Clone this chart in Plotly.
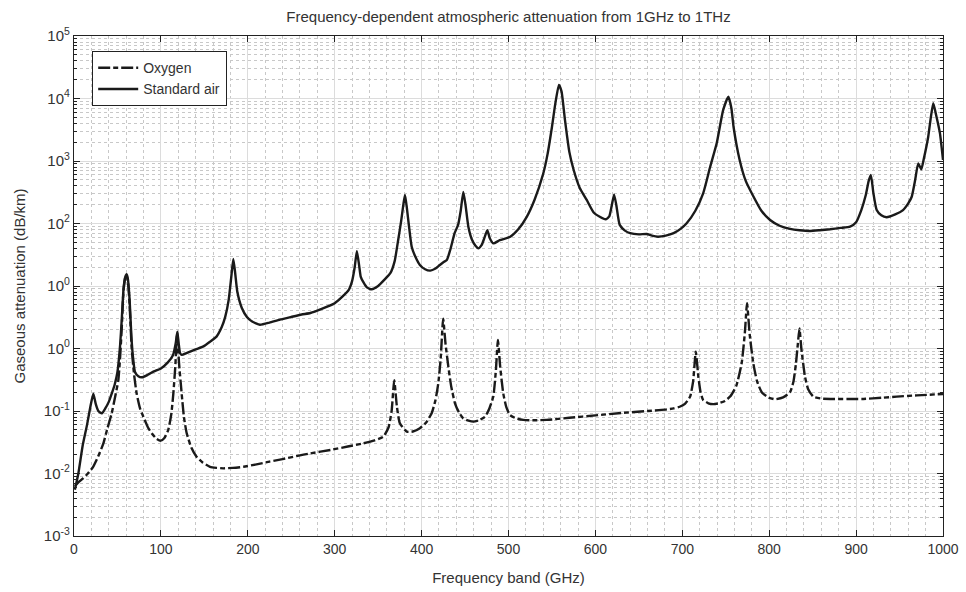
import plotly.graph_objects as go

# ---------------- data ----------------
freq_air = [1, 5, 10, 15, 19, 22.2, 25, 28, 32, 36, 40, 44, 47, 50, 53, 55, 57, 59, 60.6, 62, 64, 66, 68,
            70.2, 74, 78, 85, 92, 100, 108, 114, 117, 118.9, 120.5, 122, 124, 130, 140, 149, 157, 164,
            170, 174, 178, 181, 183.3, 185.5, 188, 193, 199, 205, 214, 225, 237, 250, 262, 272, 285,
            300, 310, 316, 320, 323, 325.5, 328, 330, 333, 337, 342.5, 350, 357, 364, 369, 373, 376.5,
            379, 380.9, 383, 385.5, 388.6, 393, 398, 404, 410, 416, 421, 425, 429, 433, 438, 442, 445,
            448, 450.5, 453.8, 458, 462, 465.3, 469, 472.5, 475.6, 478.5, 482.5, 490, 502, 511, 521,
            530, 540, 545, 550, 554, 558, 561, 565, 570, 575, 582, 590, 598, 605, 612, 616, 619, 621.5,
            624, 628, 634, 640, 650, 659, 665, 672, 681, 690, 698, 705, 715, 724, 732, 739.5, 747, 753,
            756.5, 759, 766, 773, 782, 791, 801, 812, 824, 835, 847, 858, 870, 882, 893, 900, 906, 911,
            914.5, 917, 920, 923.7, 929, 935, 945, 954, 960, 964, 968, 971.5, 975, 978, 983, 986, 988.8,
            992, 996.5, 1000]
att_air = [0.0055, 0.010, 0.028, 0.06, 0.12, 0.19, 0.13, 0.10, 0.092, 0.11, 0.14, 0.2, 0.27, 0.42, 1.1,
           3, 9, 14, 15.5, 13, 6, 1.6, 0.7,
           0.42, 0.36, 0.346, 0.38, 0.43, 0.48, 0.6, 0.79, 1.2, 1.86, 1.2, 0.85, 0.79, 0.85, 0.97, 1.08,
           1.3, 1.55,
           2.2, 3.2, 6, 14, 27, 16, 8, 4.5, 3.2, 2.7, 2.4, 2.6, 2.9, 3.2, 3.5, 3.7, 4.3,
           5.3, 7, 8.6, 12, 20, 36, 22, 14, 11.5, 9.5, 8.85, 10, 12.5, 16, 25, 54, 110,
           200, 286, 180, 90, 42.5, 29, 21.7, 18.5, 17.6, 19, 21.7, 24, 26, 38, 70, 95, 160,
           320, 200, 89, 55, 44, 40, 45, 60, 78, 58, 48, 54, 61.5, 80, 128,
           240, 630, 1300, 3500, 8500, 16500, 13000, 4500, 1400, 718, 370, 238, 150, 128, 117, 130,
           200, 290,
           200, 95, 77, 70, 67, 68, 64, 61.5, 64, 70, 82, 101, 160, 304, 800, 1900, 6500, 10700,
           7000, 3500, 1040, 480, 268, 160, 114, 92, 82, 78, 76, 78, 81, 85, 89, 105, 164, 280,
           480, 600, 300, 164, 135, 126, 140, 164, 210, 268, 500, 918, 736, 1100, 2450, 5000, 8400,
           5500, 2770, 1040]

freq_oxygen = [1, 5, 10.7, 16, 22, 28, 33.7, 38, 43.4, 47, 51, 53, 55, 57, 59, 60.6, 62, 64, 66.4, 69,
               72.1, 76, 79.8, 85, 89.4, 95, 99.8, 104, 108.5, 112, 114.3, 116.5, 118.8, 120.8, 123.9,
               126.5, 129.7, 135, 141, 148, 156.5, 164, 172, 183, 195, 210, 225, 240, 256, 272, 295,
               315, 333, 346, 356, 362, 365.5, 368.5, 371.5, 375, 383, 390, 398, 405, 411.6, 416,
               419.2, 422, 424.8, 427.5, 430.8, 434, 438.4, 443, 448, 454, 459.5, 466, 473, 478, 482.5,
               485.5, 487.8, 490.5, 494, 497.5, 501.7, 509, 517, 530, 544, 570, 600, 630, 660, 680,
               690, 697, 703, 709, 712.5, 715.5, 718.5, 721, 724, 730, 735.7, 742, 749, 755, 762,
               768.3, 772, 774.5, 777.5, 781.7, 786, 791.4, 799, 806.7, 816, 824, 828, 830.8, 833,
               834.8, 837, 841.2, 845, 850.8, 860, 870.3, 890, 908.3, 930, 946.7, 970, 1000]
att_oxygen = [0.0063, 0.0072, 0.0084, 0.010, 0.0128, 0.019, 0.030, 0.05, 0.092, 0.16, 0.31, 0.7, 2.2,
              8.5, 13.5, 14.5, 12, 5, 1.0, 0.4,
              0.19, 0.11, 0.081, 0.055, 0.044, 0.036, 0.0335, 0.037, 0.05, 0.09, 0.19, 0.5, 1.75, 0.6,
              0.19,
              0.08, 0.044, 0.026, 0.0186, 0.015, 0.0128, 0.0123, 0.0121, 0.0123, 0.0128, 0.014, 0.0155,
              0.017, 0.019, 0.021, 0.0238,
              0.027, 0.0304, 0.034, 0.0388, 0.055, 0.1, 0.31, 0.12, 0.0635, 0.0467, 0.047, 0.053,
              0.065, 0.092, 0.15,
              0.277, 0.7, 3.0, 1.2, 0.51, 0.25, 0.133, 0.095, 0.076, 0.07, 0.0675, 0.071, 0.081, 0.11,
              0.17,
              0.45, 1.37, 0.5, 0.19, 0.115, 0.086, 0.076, 0.072, 0.071, 0.072, 0.078, 0.085, 0.093,
              0.1, 0.105,
              0.11, 0.117, 0.13, 0.17, 0.3, 0.89, 0.35, 0.2, 0.15, 0.133, 0.129, 0.133, 0.145, 0.17,
              0.25,
              0.58, 1.8, 5.3, 1.7, 0.58, 0.3, 0.2, 0.165, 0.154, 0.165, 0.2, 0.3, 0.58, 1.2,
              2.1, 1.0, 0.354, 0.22, 0.17, 0.158, 0.156, 0.156, 0.156, 0.163, 0.17, 0.178, 0.187]

x_ticks = [0, 100, 200, 300, 400, 500, 600, 700, 800, 900, 1000]
y_tickvals = [1e-3, 1e-2, 1e-1, 1e0, 1e1, 1e2, 1e3, 1e4, 1e5]
y_ticktext = ["10<sup>-3</sup>", "10<sup>-2</sup>", "10<sup>-1</sup>", "10<sup>0</sup>",
              "10<sup>0</sup>", "10<sup>2</sup>", "10<sup>3</sup>", "10<sup>4</sup>", "10<sup>5</sup>"]
y_minor = [k * 10.0 ** e for e in range(-3, 5) for k in range(2, 10)]

FONT = "Liberation Sans, Arial, sans-serif"
TXT = "#333333"

fig = go.Figure()
fig.add_trace(go.Scatter(x=freq_oxygen, y=att_oxygen, mode="lines", name="Oxygen",
                         line=dict(color="#1a1a1a", width=2.4, dash="12px,3px,5px,3px",
                                   shape="spline", smoothing=0.5)))
fig.add_trace(go.Scatter(x=freq_air, y=att_air, mode="lines", name="Standard air",
                         line=dict(color="#1a1a1a", width=2.4, shape="spline", smoothing=0.5)))

fig.update_layout(
    width=966, height=592,
    margin=dict(l=74, r=23, t=36, b=56, autoexpand=False),
    paper_bgcolor="white", plot_bgcolor="white",
    font=dict(family=FONT, size=13, color=TXT),
    title=dict(text="Frequency-dependent atmospheric attenuation from 1GHz to 1THz",
               x=0.5, xref="paper", xanchor="center", y=0.972, yref="container",
               yanchor="middle", font=dict(family=FONT, size=15, color=TXT)),
    showlegend=True,
    legend=dict(x=0.0207, y=0.97, xanchor="left", yanchor="top",
                bgcolor="white", bordercolor="#222222", borderwidth=1.2,
                font=dict(family=FONT, size=14, color=TXT),
                itemwidth=40, tracegroupgap=0),
)

fig.update_xaxes(
    range=[0, 1000], tickvals=x_ticks, ticktext=[str(v) for v in x_ticks],
    showline=True, linecolor="#222222", linewidth=1.2, mirror="allticks",
    ticks="inside", ticklen=6, tickcolor="#222222",
    showgrid=True, gridcolor="#dcdcdc", gridwidth=1,
    minor=dict(dtick=20, tick0=0, showgrid=True, gridcolor="#c8c8c8", griddash="dot",
               gridwidth=1, ticks=""),
    zeroline=False, automargin=False,
    title=dict(text="Frequency band (GHz)", font=dict(family=FONT, size=15, color=TXT), standoff=16),
    tickfont=dict(family=FONT, size=14, color=TXT),
)
fig.update_yaxes(
    type="log", range=[-3, 5], tickvals=y_tickvals, ticktext=y_ticktext,
    showline=True, linecolor="#222222", linewidth=1.2, mirror="allticks",
    ticks="inside", ticklen=6, tickcolor="#222222",
    showgrid=True, gridcolor="#dcdcdc", gridwidth=1,
    minor=dict(tickvals=y_minor, showgrid=True, gridcolor="#c8c8c8", griddash="dot",
               gridwidth=1, ticks="inside", ticklen=3, tickcolor="#222222"),
    zeroline=False, automargin=False,
    title=dict(text="Gaseous attenuation (dB/km)", font=dict(family=FONT, size=15, color=TXT),
               standoff=14),
    tickfont=dict(family=FONT, size=15, color=TXT),
)

fig.write_html("out.html")
